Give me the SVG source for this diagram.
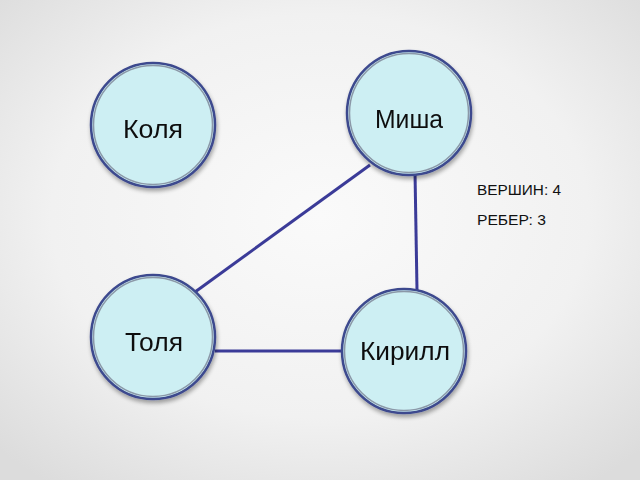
<svg xmlns="http://www.w3.org/2000/svg" width="640" height="480" viewBox="0 0 640 480">
<defs>
<radialGradient id="bg" cx="50%" cy="45%" r="70%">
<stop offset="0" stop-color="#fafafa"/>
<stop offset="0.6" stop-color="#f1f1f1"/>
<stop offset="1" stop-color="#dcdcdc"/>
</radialGradient>
<filter id="sh" x="-20%" y="-20%" width="150%" height="150%">
<feGaussianBlur in="SourceAlpha" stdDeviation="2"/>
<feOffset dx="1" dy="3"/>
<feComponentTransfer><feFuncA type="linear" slope="0.35"/></feComponentTransfer>
<feMerge><feMergeNode/><feMergeNode in="SourceGraphic"/></feMerge>
</filter>
</defs>
<style>
.node circle.o{fill:#cdeff3;stroke:#3d4a8e;stroke-width:2.5}
.node circle.i{fill:none;stroke:#8b98a8;stroke-width:1.5}
.node text{font-family:"Liberation Sans",Arial,sans-serif;font-size:25px;fill:#111;text-anchor:middle}
.edge{stroke:#3b3b98;stroke-width:3;fill:none}
.info{font-family:"Liberation Sans",Arial,sans-serif;font-size:15px;fill:#111}
</style>
<rect width="640" height="480" fill="url(#bg)"/>
<g id="edges">
<line class="edge" x1="370" y1="165" x2="195" y2="292"/>
<line class="edge" x1="415" y1="172" x2="417" y2="290"/>
<line class="edge" x1="215" y1="351" x2="343" y2="351"/>
</g>
<g id="kolya" class="node" filter="url(#sh)">
<circle class="o" cx="153" cy="125" r="62"/>
<circle class="i" cx="153" cy="125" r="59.5"/>
<text x="153" y="138" textLength="60" lengthAdjust="spacingAndGlyphs">Коля</text>
</g>
<g id="misha" class="node" filter="url(#sh)">
<circle class="o" cx="409" cy="113" r="62"/>
<circle class="i" cx="409" cy="113" r="59.5"/>
<text x="409" y="128" textLength="68" lengthAdjust="spacingAndGlyphs">Миша</text>
</g>
<g id="tolya" class="node" filter="url(#sh)">
<circle class="o" cx="153" cy="337" r="62"/>
<circle class="i" cx="153" cy="337" r="59.5"/>
<text x="154" y="351" textLength="58" lengthAdjust="spacingAndGlyphs">Толя</text>
</g>
<g id="kirill" class="node" filter="url(#sh)">
<circle class="o" cx="404" cy="351" r="62"/>
<circle class="i" cx="404" cy="351" r="59.5"/>
<text x="405" y="360" textLength="90" lengthAdjust="spacingAndGlyphs">Кирилл</text>
</g>
<g id="info">
<text class="info" x="477" y="195" textLength="84" lengthAdjust="spacingAndGlyphs">ВЕРШИН: 4</text>
<text class="info" x="477" y="225" textLength="69" lengthAdjust="spacingAndGlyphs">РЕБЕР: 3</text>
</g>
</svg>
